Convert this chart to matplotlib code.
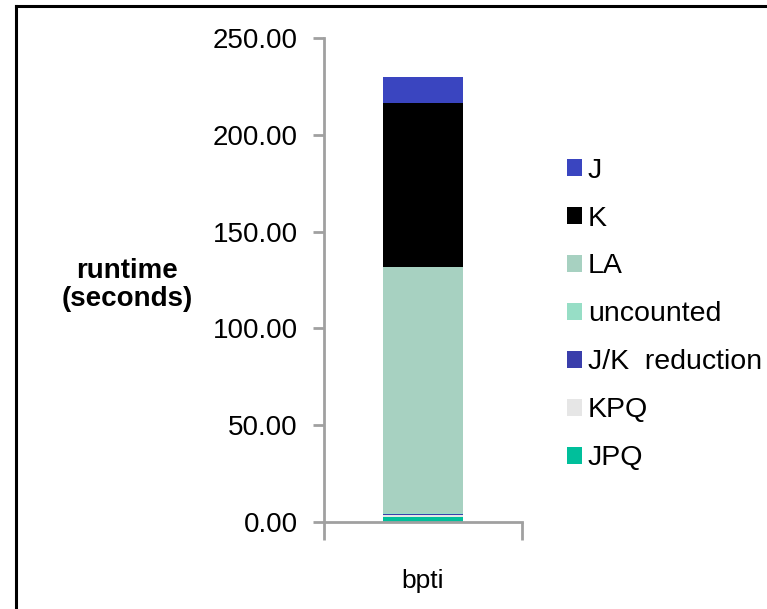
import matplotlib.pyplot as plt
from matplotlib.lines import Line2D
from matplotlib.patches import Patch

plt.rcParams['font.family'] = ['Liberation Sans', 'DejaVu Sans']

categories = ['bpti']
# stacked from bottom to top
segments = ['JPQ', 'KPQ', 'J/K  reduction', 'uncounted', 'LA', 'K', 'J']
values = {
    'JPQ': [2.4],
    'KPQ': [1.2],
    'J/K  reduction': [0.6],
    'uncounted': [0.3],
    'LA': [127.3],
    'K': [84.6],
    'J': [13.5],
}
colors = {
    'JPQ': '#00bf9b',
    'KPQ': '#e6e6e6',
    'J/K  reduction': '#3a3eab',
    'uncounted': '#97dec6',
    'LA': '#a7d1c1',
    'K': '#000000',
    'J': '#3a45c0',
}
yticks = [0, 50, 100, 150, 200, 250]

fig = plt.figure(figsize=(7.67, 6.09), dpi=100)
ax = fig.add_axes([324 / 767, 1 - 522 / 609, 198 / 767, 484 / 609])

x = list(range(len(categories)))
bottom = [0.0] * len(categories)
for name in segments:
    ax.bar(x, values[name], width=0.4, bottom=bottom, color=colors[name], linewidth=0)
    bottom = [b + v for b, v in zip(bottom, values[name])]

ax.set_xlim(-0.5, 0.5)
ax.set_ylim(0, 250)
ax.set_yticks(yticks)
ax.set_yticklabels([f'{t:.2f}' for t in yticks], fontsize=20)
ax.set_xticks(x)
ax.set_xticklabels(categories, fontsize=19)
ax.set_xticks([-0.5, 0.5], minor=True)

grey = '#a0a0a0'
for side in ['top', 'right']:
    ax.spines[side].set_visible(False)
for side in ['left', 'bottom']:
    ax.spines[side].set_color(grey)
    ax.spines[side].set_linewidth(2)
ax.tick_params(axis='y', direction='out', length=8, width=2, color=grey, pad=11)
ax.tick_params(axis='x', which='major', length=0, pad=34)
ax.tick_params(axis='x', which='minor', direction='out', length=13, width=2, color=grey)

fig.text(127 / 767, 1 - 285 / 609, 'runtime\n(seconds)', fontsize=20, fontweight='bold',
         ha='center', va='center', linespacing=1.15)

handles = [Patch(facecolor=colors[n], edgecolor='none') for n in reversed(segments)]
fig.legend(handles, list(reversed(segments)), loc='upper left',
           bbox_to_anchor=(541 / 767, 1 - 132 / 609), frameon=False, fontsize=20.5,
           handlelength=0.55, handleheight=0.55, handletextpad=0.2, labelspacing=0.77)

# figure frame (left and top edges visible)
fig.add_artist(Line2D([16 / 767, 16 / 767], [0, 1 - 6 / 609], color='black', lw=2.2,
                      transform=fig.transFigure))
fig.add_artist(Line2D([16 / 767, 1], [1 - 6 / 609, 1 - 6 / 609], color='black', lw=2.2,
                      transform=fig.transFigure))

fig.savefig('out.png', dpi=100)
